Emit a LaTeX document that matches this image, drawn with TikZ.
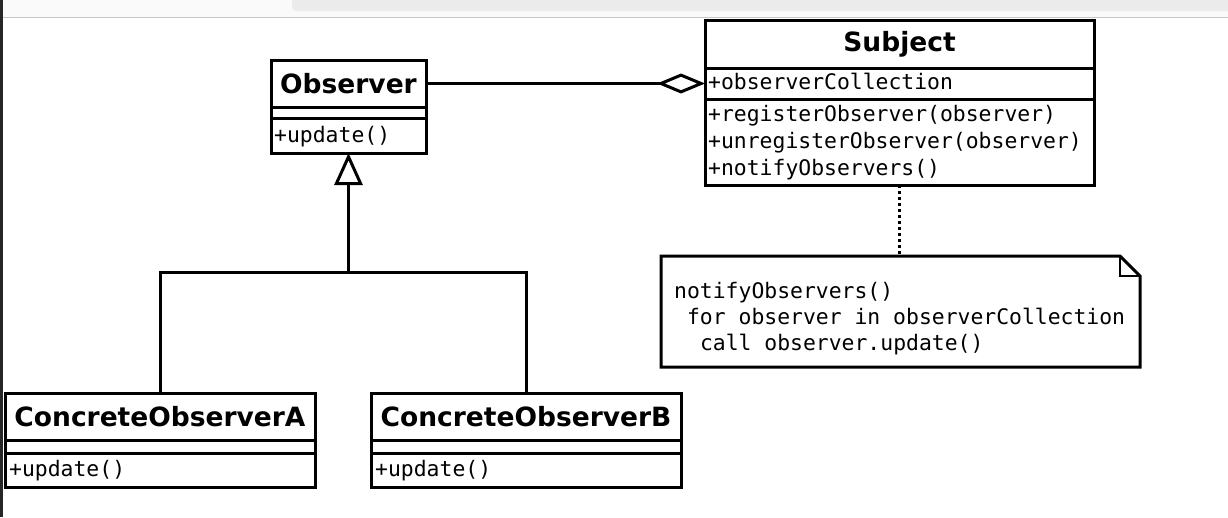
\documentclass[tikz,border=0pt]{standalone}
\usepackage{fontspec}
\setmainfont{DejaVu Sans}
\newfontfamily\monof{DejaVu Sans Mono}
\usetikzlibrary{arrows.meta}
\begin{document}
\begin{tikzpicture}[x=1pt,y=-1pt,
  comp/.style={draw,line width=3pt,rectangle,inner sep=0pt,outer sep=0pt,anchor=north west,
    font=\bfseries\fontsize{26.5}{30}\selectfont},
  mem/.style={font=\monof\fontsize{21.4}{24}\selectfont,inner sep=0pt,anchor=base west},
  link/.style={line width=3pt},
]
\useasboundingbox (0,0) rectangle (1228,517);
\fill[white] (0,0) rectangle (1228,517);
% browser fragment at top
\fill[black!2] (0,0) rectangle (1228,17);
\fill[black!8, rounded corners=4pt] (292,-8) rectangle (1236,11);
\draw[black!22, line width=1pt] (0,17) -- (1228,17);
\fill[black!85] (0,0) rectangle (3,517);

% Observer
\node[comp, minimum width=155pt, minimum height=47pt] (obsN) at (271,60) {Observer};
\node[comp, minimum width=155pt, minimum height=11pt] (obsA) at (271,107) {};
\node[comp, minimum width=155pt, minimum height=35pt] (obsM) at (271,118) {};
\node[mem] (obsM1) at (274,142) {+update()};

% Subject
\node[comp, minimum width=389pt, minimum height=48pt] (subN) at (705,20) {Subject};
\node[comp, minimum width=389pt, minimum height=31pt] (subA) at (705,68) {};
\node[comp, minimum width=389pt, minimum height=86pt] (subM) at (705,99) {};
\node[mem] (subA1) at (708,89) {+observerCollection};
\node[mem] (subM1) at (708,121) {+registerObserver(observer)};
\node[mem] (subM2) at (708,148) {+unregisterObserver(observer)};
\node[mem] (subM3) at (708,175) {+notifyObservers()};

% ConcreteObserverA
\node[comp, minimum width=310pt, minimum height=47pt] (caN) at (5,393) {ConcreteObserverA};
\node[comp, minimum width=310pt, minimum height=13pt] (caA) at (5,440) {};
\node[comp, minimum width=310pt, minimum height=34pt] (caM) at (5,453) {};
\node[mem] (caM1) at (9,476) {+update()};

% ConcreteObserverB
\node[comp, minimum width=310pt, minimum height=47pt] (cbN) at (371,393) {ConcreteObserverB};
\node[comp, minimum width=310pt, minimum height=13pt] (cbA) at (371,440) {};
\node[comp, minimum width=310pt, minimum height=34pt] (cbM) at (371,453) {};
\node[mem] (cbM1) at (375,476) {+update()};

% Note
\node[inner sep=0pt, outer sep=0pt, minimum width=479pt, minimum height=111pt, anchor=north west] (note) at (661,256) {};
\draw[line width=3pt, line join=miter] (note.north west) -- ([xshift=-20pt]note.north east)
  -- ([yshift=-20pt]note.north east) -- (note.south east) -- (note.south west) -- cycle;
\draw[line width=1.5pt] ([xshift=-20pt]note.north east) -- ([xshift=-20pt,yshift=-20pt]note.north east)
  -- ([yshift=-20pt]note.north east);
\node[mem] (n1) at (674,298) {notifyObservers()};
\node[mem] (n2) at (686.9,324) {for observer in observerCollection};
\node[mem] (n3) at (699.8,350) {call observer.update()};

% Connectors
\draw[link, -{Diamond[open, length=48pt, width=20pt, line width=3pt]}] (obsN.east) -- (subA.west);
\draw[link, dash pattern=on 3pt off 3pt] (subM.south) -- (subM.south |- note.north);
\coordinate (join) at (348.5,272);
\draw[link] (caN.north) |- (join) -| (cbN.north);
\draw[link, -{Triangle[open, length=32pt, width=28pt, line width=3pt]}] (join) -- (obsM.south);
\end{tikzpicture}
\end{document}
